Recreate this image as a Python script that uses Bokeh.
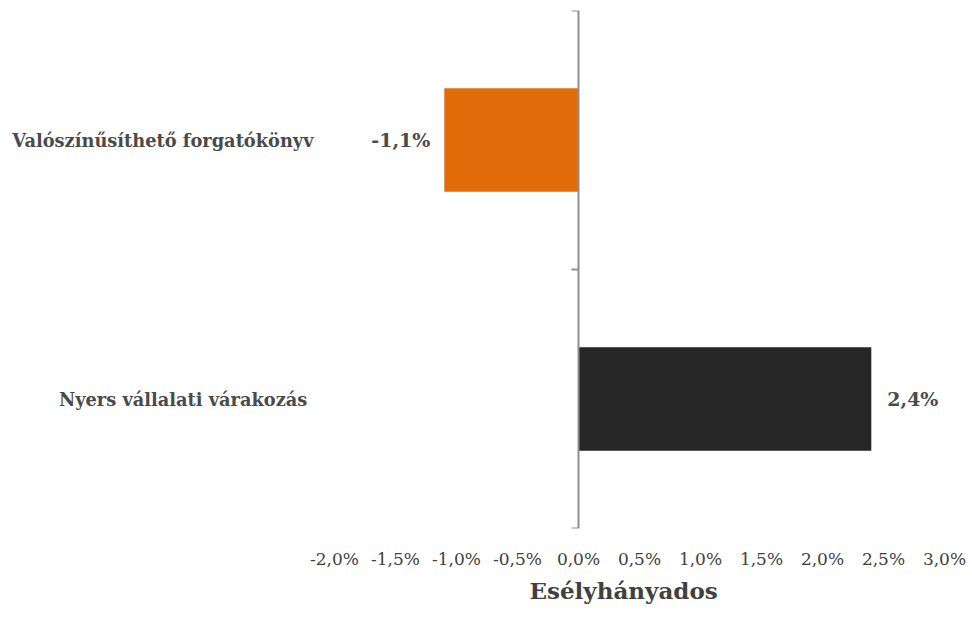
from bokeh.plotting import figure
from bokeh.models import ColumnDataSource, Range1d, FixedTicker, LinearAxis, Title
from bokeh.core.properties import value, field
from bokeh.embed import file_html
from bokeh.resources import INLINE

# ---- data ----
categories = ["Valószínűsíthető forgatókönyv", "Nyers  vállalati várakozás"]
values = [-1.1, 2.4]  # percent
bar_colors = ["#E36C0A", "#262626"]
x_ticks = [-2.0, -1.5, -1.0, -0.5, 0.0, 0.5, 1.0, 1.5, 2.0, 2.5, 3.0]
x_tick_labels = ["-2,0%", "-1,5%", "-1,0%", "-0,5%", "0,0%", "0,5%", "1,0%",
                 "1,5%", "2,0%", "2,5%", "3,0%"]
x_axis_title = "Esélyhányados"

n = len(categories)
ypos = [n - i - 0.5 for i in range(n)]
labels = [("%.1f" % v).replace(".", ",") + "%" for v in values]
aligns = ["right" if v < 0 else "left" for v in values]
offsets = [-14 if v < 0 else 16 for v in values]

src = ColumnDataSource(dict(y=ypos, v=values, c=bar_colors, lab=labels,
                            al=aligns, off=offsets))

SERIF = "DejaVu Serif"
TXT = "#404040"

p = figure(width=972, height=617, output_backend="svg", toolbar_location=None,
           x_range=Range1d(x_ticks[0], x_ticks[-1]), y_range=Range1d(0, n),
           min_border_left=334, min_border_right=28, min_border_top=10,
           min_border_bottom=89)
p.outline_line_color = None
p.xgrid.visible = False
p.ygrid.visible = False
p.background_fill_color = "white"
p.border_fill_color = "white"

p.hbar(y="y", left=0, right="v", height=0.4, fill_color="c", line_color=None,
       source=src)

p.text(x="v", y="y", text="lab", x_offset="off", text_align=field("al"),
       text_baseline="middle", text_font=value(SERIF),
       text_font_style="bold", text_font_size="19px", text_color="#4a4a4a",
       source=src)

# x axis
xa = p.xaxis[0]
xa.ticker = FixedTicker(ticks=x_ticks)
xa.major_label_overrides = {t: l for t, l in zip(x_ticks, x_tick_labels)}
xa.axis_line_color = None
xa.major_tick_line_color = None
xa.major_tick_in = 0
xa.major_tick_out = 0
xa.minor_tick_line_color = None
xa.major_label_standoff = 20
xa.major_label_text_font = SERIF
xa.major_label_text_font_size = "17px"
xa.major_label_text_color = TXT

# axis title below the tick labels, slightly left of centre as in the original
t = Title(text=x_axis_title, align="left", offset=195, standoff=6,
          text_font=SERIF, text_font_style="bold", text_font_size="23px",
          text_color=TXT)
p.add_layout(t, "below")

# category labels on the left
ya = p.yaxis[0]
ya.ticker = FixedTicker(ticks=ypos)
ya.major_label_overrides = {y: c for y, c in zip(ypos, categories)}
ya.axis_line_color = None
ya.major_tick_line_color = None
ya.major_tick_in = 0
ya.major_tick_out = 0
ya.minor_tick_line_color = None
ya.major_label_standoff = 21
ya.major_label_text_font = SERIF
ya.major_label_text_font_style = "bold"
ya.major_label_text_font_size = "17.8px"
ya.major_label_text_color = "#4a4a4a"

# zero axis line with category boundary ticks
za = LinearAxis(fixed_location=0, ticker=FixedTicker(ticks=list(range(n + 1))))
za.axis_line_color = "#8f8f8f"
za.axis_line_width = 2
za.major_tick_line_color = "#8f8f8f"
za.major_tick_line_width = 2
za.major_tick_in = 0
za.major_tick_out = 7
za.minor_tick_line_color = None
za.major_label_text_font_size = "0px"
za.major_label_text_color = None
p.add_layout(za, "left")

open("out.html", "w").write(file_html(p, INLINE))
